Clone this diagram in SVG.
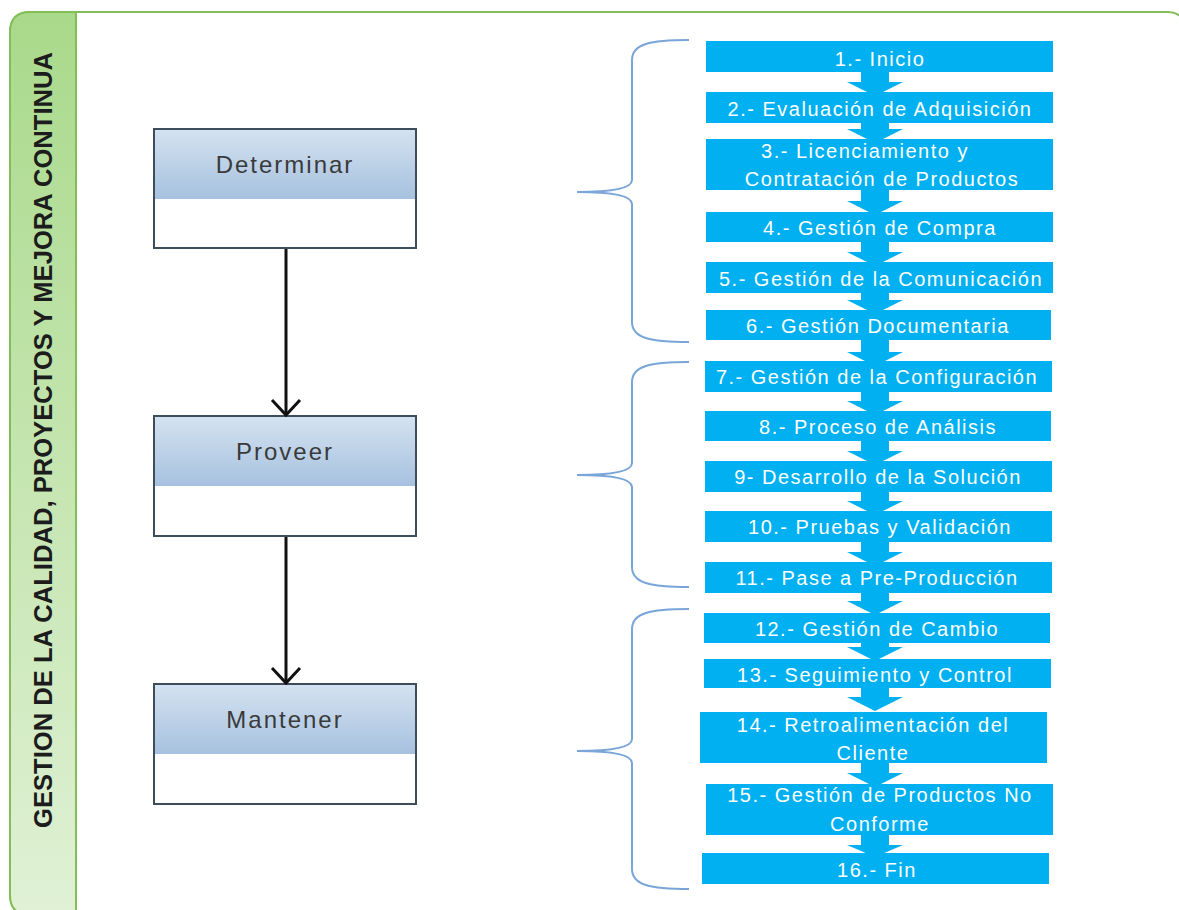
<svg xmlns="http://www.w3.org/2000/svg" width="1179" height="910" viewBox="0 0 1179 910">
  <defs>
    <linearGradient id="sideFill" x1="0" y1="0" x2="0" y2="1">
      <stop offset="0" stop-color="#a9d98b"/>
      <stop offset="1" stop-color="#e0f1d5"/>
    </linearGradient>
    <linearGradient id="headFill" x1="0" y1="0" x2="0" y2="1">
      <stop offset="0" stop-color="#d4e2f0"/>
      <stop offset="1" stop-color="#a6c1df"/>
    </linearGradient>
    <!-- open chevron head, drawn pointing along +x -->
    <marker id="openArrow" viewBox="0 0 20 32" refX="17" refY="16" markerWidth="20" markerHeight="32" markerUnits="userSpaceOnUse" orient="auto">
      <path d="M2,2 L17,16 L2,30" fill="none" stroke="#111" stroke-width="3"/>
    </marker>
  </defs>
  <style>
    .frame { fill: #ffffff; stroke: #82bd55; stroke-width: 2; }
    .side { fill: url(#sideFill); stroke: #82bd55; stroke-width: 2; }
    .sideText { font-family: "Liberation Sans", Arial, sans-serif; font-weight: bold; font-size: 25px; fill: #1c1c1c; }
    .phase { fill: #ffffff; stroke: #3e4d5c; stroke-width: 2; }
    .phaseHead { fill: url(#headFill); }
    .phaseText { font-family: "Liberation Sans", Arial, sans-serif; font-size: 24px; letter-spacing: 2px; fill: #3a3a3a; text-anchor: middle; }
    .step { fill: #00b0f0; }
    .stepText { font-family: "Liberation Sans", Arial, sans-serif; font-size: 20px; letter-spacing: 1.5px; fill: #ffffff; text-anchor: middle; }
    .flow { fill: #00b0f0; }
    .link { stroke: #111; stroke-width: 3; fill: none; }
    .brace { fill: none; stroke: #79a5d8; stroke-width: 2; }
  </style>

  <!-- outer frame and side band -->
  <rect class="frame" x="10" y="12" width="1178" height="903" rx="20" ry="20"/>
  <path class="side" d="M76,915 L30,915 Q10,915 10,895 L10,32 Q10,12 30,12 L76,12 Z"/>
  <text class="sideText" transform="translate(52,440) rotate(-90)" text-anchor="middle" textLength="776" lengthAdjust="spacingAndGlyphs">GESTION DE LA CALIDAD, PROYECTOS Y MEJORA CONTINUA</text>

  <!-- phase nodes -->
  <g id="phase-determinar">
    <rect class="phase" x="154" y="129" width="262" height="119"/>
    <rect class="phaseHead" x="155" y="130" width="260" height="69"/>
    <text class="phaseText" x="285" y="173">Determinar</text>
  </g>
  <g id="phase-proveer">
    <rect class="phase" x="154" y="416" width="262" height="120"/>
    <rect class="phaseHead" x="155" y="417" width="260" height="69"/>
    <text class="phaseText" x="285" y="460">Proveer</text>
  </g>
  <g id="phase-mantener">
    <rect class="phase" x="154" y="684" width="262" height="120"/>
    <rect class="phaseHead" x="155" y="685" width="260" height="69"/>
    <text class="phaseText" x="285" y="728">Mantener</text>
  </g>

  <!-- braces grouping the steps -->
  <g id="braces">
    <path class="brace" d="M689,40 C650,40 632,44 632,60 L632,180 C632,188 615,192 577,192 C615,192 632,196 632,204 L632,322 C632,338 650,342 689,342"/>
    <path class="brace" d="M689,362 C650,362 632,366 632,382 L632,463 C632,471 615,475 577,475 C615,475 632,479 632,487 L632,567 C632,583 650,587 689,587"/>
    <path class="brace" d="M689,609 C650,609 632,613 632,629 L632,739 C632,747 615,751 577,751 C615,751 632,755 632,763 L632,869 C632,885 650,889 689,889"/>
  </g>

  <!-- connectors -->
  <g id="connectors">
    <line class="link" x1="286" y1="249" x2="286" y2="415" marker-end="url(#openArrow)"/>
    <line class="link" x1="286" y1="537" x2="286" y2="683" marker-end="url(#openArrow)"/>
    <path class="flow" d="M861,71 H889 V82 H903 L875,96 L847,82 H861 Z"/>
    <path class="flow" d="M861,122 H889 V129 H903 L875,143 L847,129 H861 Z"/>
    <path class="flow" d="M861,189 H889 V201 H903 L875,215 L847,201 H861 Z"/>
    <path class="flow" d="M861,241 H889 V252 H903 L875,266 L847,252 H861 Z"/>
    <path class="flow" d="M861,292 H889 V300 H903 L875,314 L847,300 H861 Z"/>
    <path class="flow" d="M861,339 H889 V352 H903 L875,366 L847,352 H861 Z"/>
    <path class="flow" d="M861,391 H889 V401 H903 L875,415 L847,401 H861 Z"/>
    <path class="flow" d="M861,440 H889 V451 H903 L875,465 L847,451 H861 Z"/>
    <path class="flow" d="M861,491 H889 V501 H903 L875,515 L847,501 H861 Z"/>
    <path class="flow" d="M861,541 H889 V552 H903 L875,566 L847,552 H861 Z"/>
    <path class="flow" d="M861,592 H889 V601 H903 L875,615 L847,601 H861 Z"/>
    <path class="flow" d="M861,642 H889 V647 H903 L875,661 L847,647 H861 Z"/>
    <path class="flow" d="M861,687 H889 V697 H903 L875,711 L847,697 H861 Z"/>
    <path class="flow" d="M861,762 H889 V773 H903 L875,787 L847,773 H861 Z"/>
    <path class="flow" d="M861,834 H889 V845 H903 L875,857 L847,845 H861 Z"/>
  </g>

  <!-- process steps -->
  <g id="step-01">
    <rect class="step" x="706" y="41" width="347" height="31"/>
    <text class="stepText" x="880" y="66">1.- Inicio</text>
  </g>
  <g id="step-02">
    <rect class="step" x="706" y="92" width="347" height="31"/>
    <text class="stepText" x="880" y="116">2.- Evaluación de Adquisición</text>
  </g>
  <g id="step-03">
    <rect class="step" x="706" y="139" width="347" height="51"/>
    <text class="stepText" x="865" y="158">3.- Licenciamiento y</text>
    <text class="stepText" x="882" y="186">Contratación de Productos</text>
  </g>
  <g id="step-04">
    <rect class="step" x="706" y="212" width="347" height="30"/>
    <text class="stepText" x="880" y="235">4.- Gestión de Compra</text>
  </g>
  <g id="step-05">
    <rect class="step" x="706" y="262" width="347" height="31"/>
    <text class="stepText" x="881" y="286">5.- Gestión de la Comunicación</text>
  </g>
  <g id="step-06">
    <rect class="step" x="706" y="310" width="345" height="30"/>
    <text class="stepText" x="878" y="333">6.- Gestión Documentaria</text>
  </g>
  <g id="step-07">
    <rect class="step" x="705" y="361" width="347" height="31"/>
    <text class="stepText" x="877" y="384">7.- Gestión de la Configuración</text>
  </g>
  <g id="step-08">
    <rect class="step" x="705" y="411" width="346" height="30"/>
    <text class="stepText" x="878" y="434">8.- Proceso de Análisis</text>
  </g>
  <g id="step-09">
    <rect class="step" x="705" y="461" width="347" height="31"/>
    <text class="stepText" x="878" y="484">9- Desarrollo de la Solución</text>
  </g>
  <g id="step-10">
    <rect class="step" x="705" y="511" width="347" height="31"/>
    <text class="stepText" x="880" y="534">10.- Pruebas y Validación</text>
  </g>
  <g id="step-11">
    <rect class="step" x="705" y="562" width="347" height="31"/>
    <text class="stepText" x="877" y="585">11.- Pase a Pre-Producción</text>
  </g>
  <g id="step-12">
    <rect class="step" x="704" y="613" width="346" height="30"/>
    <text class="stepText" x="877" y="636">12.- Gestión de Cambio</text>
  </g>
  <g id="step-13">
    <rect class="step" x="704" y="659" width="347" height="29"/>
    <text class="stepText" x="875" y="682">13.- Seguimiento y Control</text>
  </g>
  <g id="step-14">
    <rect class="step" x="700" y="712" width="347" height="51"/>
    <text class="stepText" x="873" y="732">14.- Retroalimentación del</text>
    <text class="stepText" x="873" y="760">Cliente</text>
  </g>
  <g id="step-15">
    <rect class="step" x="706" y="784" width="347" height="51"/>
    <text class="stepText" x="880" y="802">15.- Gestión de Productos No</text>
    <text class="stepText" x="880" y="831">Conforme</text>
  </g>
  <g id="step-16">
    <rect class="step" x="702" y="853" width="347" height="31"/>
    <text class="stepText" x="877" y="877">16.- Fin</text>
  </g>
</svg>
